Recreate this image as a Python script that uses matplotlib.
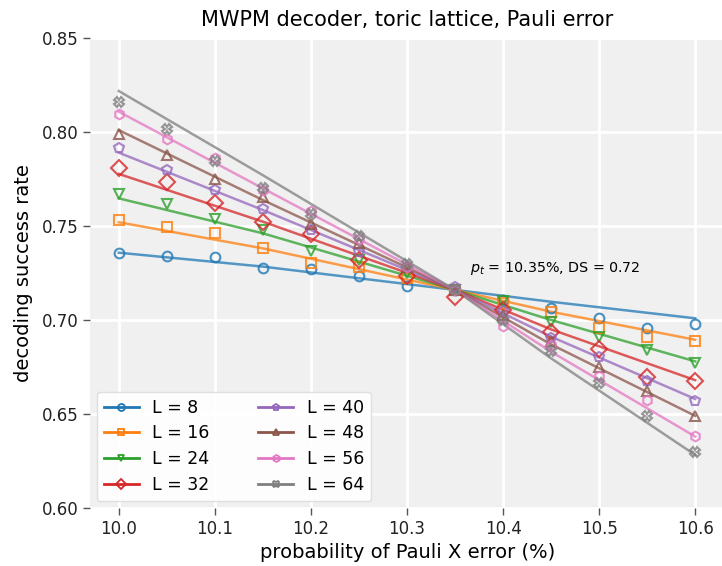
import matplotlib
matplotlib.use("Agg")
import matplotlib.pyplot as plt
from matplotlib.lines import Line2D

# ---- data ----
p_values = [10.0, 10.05, 10.1, 10.15, 10.2, 10.25, 10.3, 10.35, 10.4, 10.45, 10.5, 10.55, 10.6]
lattice_sizes = [8, 16, 24, 32, 40, 48, 56, 64]

success_L8 = [0.7355, 0.7342, 0.7337, 0.7275, 0.7270, 0.7234, 0.7181, 0.7160, 0.7105, 0.7066, 0.7009, 0.6956, 0.6977]
success_L16 = [0.7532, 0.7493, 0.7461, 0.7381, 0.7305, 0.7280, 0.7226, 0.7160, 0.7090, 0.7040, 0.6956, 0.6908, 0.6890]
success_L24 = [0.7670, 0.7615, 0.7537, 0.7479, 0.7369, 0.7320, 0.7248, 0.7160, 0.7103, 0.6991, 0.6908, 0.6840, 0.6773]
success_L32 = [0.7807, 0.7736, 0.7624, 0.7520, 0.7457, 0.7319, 0.7234, 0.7124, 0.7053, 0.6938, 0.6846, 0.6699, 0.6676]
success_L40 = [0.7913, 0.7798, 0.7690, 0.7590, 0.7479, 0.7363, 0.7284, 0.7174, 0.7048, 0.6905, 0.6805, 0.6676, 0.6571]
success_L48 = [0.7989, 0.7878, 0.7750, 0.7653, 0.7509, 0.7408, 0.7284, 0.7160, 0.7027, 0.6890, 0.6748, 0.6624, 0.6489]
success_L56 = [0.8094, 0.7965, 0.7860, 0.7690, 0.7580, 0.7429, 0.7284, 0.7160, 0.6968, 0.6867, 0.6702, 0.6574, 0.6383]
success_L64 = [0.8161, 0.8018, 0.7846, 0.7704, 0.7562, 0.7449, 0.7296, 0.7160, 0.7000, 0.6835, 0.6667, 0.6491, 0.6296]

# fitted curves, read at a few p values
p_fit = [10.0, 10.15, 10.35, 10.45, 10.6]
fit_L8 = [0.7358, 0.7284, 0.7160, 0.7097, 0.7009]
fit_L16 = [0.7520, 0.7381, 0.7160, 0.7044, 0.6895]
fit_L24 = [0.7647, 0.7461, 0.7160, 0.7000, 0.6780]
fit_L32 = [0.7777, 0.7523, 0.7160, 0.6950, 0.6680]
fit_L40 = [0.7890, 0.7585, 0.7160, 0.6911, 0.6580]
fit_L48 = [0.8010, 0.7638, 0.7160, 0.6870, 0.6490]
fit_L56 = [0.8108, 0.7700, 0.7160, 0.6831, 0.6380]
fit_L64 = [0.8218, 0.7770, 0.7160, 0.6796, 0.6282]

legend_labels = ["L = 8", "L = 16", "L = 24", "L = 32", "L = 40", "L = 48", "L = 56", "L = 64"]
annotation = r"$p_t$ = 10.35%, DS = 0.72"
x_ticks = [10.0, 10.1, 10.2, 10.3, 10.4, 10.5, 10.6]
y_ticks = [0.60, 0.65, 0.70, 0.75, 0.80, 0.85]

data = [success_L8, success_L16, success_L24, success_L32,
        success_L40, success_L48, success_L56, success_L64]
fits = [fit_L8, fit_L16, fit_L24, fit_L32, fit_L40, fit_L48, fit_L56, fit_L64]

colors = ["#1f77b4", "#ff7f0e", "#2ca02c", "#d62728",
          "#9467bd", "#8c564b", "#e377c2", "#7f7f7f"]
markers = ["o", "s", "v", "D", "p", "^", "h", "X"]
msizes = [7, 6.5, 6.5, 8, 7, 6.5, 7, 6.5]

plt.rcParams["font.family"] = ["DejaVu Sans"]

fig = plt.figure(figsize=(7.22, 5.66), dpi=100)
ax = fig.add_axes([90 / 722, 1 - 508 / 566, 635 / 722, 470 / 566])
ax.set_facecolor("#f0f0f0")
for s in ax.spines.values():
    s.set_visible(False)
ax.grid(True, color="white", linewidth=2)
ax.set_axisbelow(True)

for i in range(len(lattice_sizes)):
    ax.plot(p_fit, fits[i], color=colors[i], lw=1.8, alpha=0.75, zorder=2)
    ax.plot(p_values, data[i], linestyle="none", marker=markers[i],
            markersize=msizes[i], markerfacecolor="none",
            markeredgecolor=colors[i], markeredgewidth=1.5, alpha=0.8, zorder=3)

ax.set_xlim(9.97, 10.631)
ax.set_ylim(0.60, 0.85)
ax.set_xticks(x_ticks)
ax.set_xticklabels([f"{v:.1f}" for v in x_ticks])
ax.set_yticks(y_ticks)
ax.set_yticklabels([f"{v:.2f}" for v in y_ticks])
ax.tick_params(axis="both", labelsize=12, length=5, width=1,
               color="#555555", labelcolor="#222222", direction="out")

ax.set_title("MWPM decoder, toric lattice, Pauli error", fontsize=15, pad=9)
ax.set_xlabel("probability of Pauli X error (%)", fontsize=14, labelpad=4)
ax.set_ylabel("decoding success rate", fontsize=14, labelpad=6)

ax.text(10.366, 0.7275, annotation, fontsize=10.3, va="center", ha="left")

handles = [Line2D([0], [0], color=colors[i], lw=2, marker=markers[i], markersize=5,
                  markerfacecolor="none", markeredgecolor=colors[i],
                  markeredgewidth=1.3)
           for i in range(len(lattice_sizes))]
leg = ax.legend(handles, legend_labels, ncol=2, loc="lower left", fontsize=12.5,
                frameon=True, fancybox=True, framealpha=0.9,
                columnspacing=2.8, handlelength=2.0, borderaxespad=0.4,
                labelspacing=0.45)
leg.get_frame().set_facecolor("white")
leg.get_frame().set_edgecolor("#dddddd")

fig.savefig("out.png", dpi=100)
